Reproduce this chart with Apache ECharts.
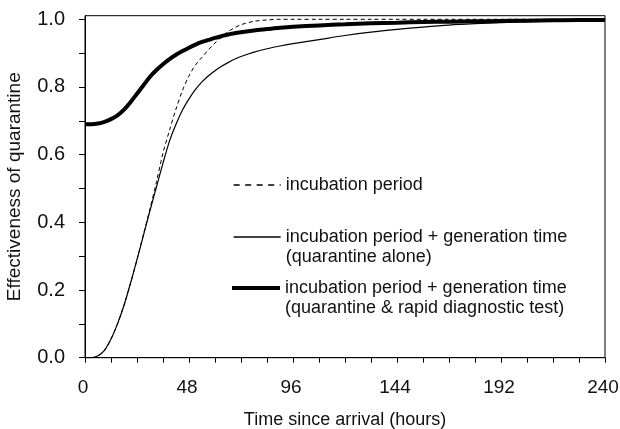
<!DOCTYPE html>
<html>
<head>
<meta charset="utf-8">
<script src="https://cdn.jsdelivr.net/npm/echarts@6/dist/echarts.min.js"></script>
<style>
  html,body{margin:0;padding:0;background:#fff;}
  #chart{width:620px;height:429px;}
</style>
</head>
<body>
<div id="chart"></div>
<script>
// hours since arrival
var hours=[0,3,6,9,12,15,18,21,24,27,30,33,36,39,42,45,48,51,54,57,60,63,66,69,72,78,84,90,96,108,120,132,144,156,168,180,192,204,216,228,240];
// incubation period
var incubation=[0,0,0.006,0.022,0.055,0.1,0.155,0.22,0.29,0.365,0.44,0.52,0.605,0.672,0.735,0.79,0.833,0.865,0.888,0.91,0.93,0.948,0.963,0.975,0.984,0.994,0.998,1,1,1,1,1,1,1,1,1,1,1,1,1,1];
// incubation period + generation time (quarantine alone)
var quarantineAlone=[0,0,0.006,0.022,0.055,0.1,0.155,0.22,0.29,0.362,0.435,0.505,0.575,0.64,0.69,0.732,0.765,0.793,0.815,0.833,0.848,0.861,0.872,0.882,0.89,0.903,0.913,0.921,0.928,0.94,0.952,0.962,0.97,0.977,0.983,0.987,0.99,0.993,0.995,0.997,0.998];
// incubation period + generation time (quarantine & rapid diagnostic test)
var quarantineTest=[0.69,0.69,0.692,0.697,0.705,0.716,0.733,0.755,0.78,0.805,0.83,0.85,0.867,0.882,0.895,0.906,0.916,0.925,0.933,0.939,0.945,0.95,0.955,0.959,0.962,0.967,0.971,0.975,0.978,0.982,0.985,0.988,0.99,0.992,0.993,0.994,0.995,0.996,0.997,0.998,0.998];
var xTicks=[0,12,24,36,48,60,72,84,96,108,120,132,144,156,168,180,192,204,216,228,240];
var xLabels=[0,48,96,144,192,240];
var yTicks=[0,0.1,0.2,0.3,0.4,0.5,0.6,0.7,0.8,0.9,1.0];
var yLabels=[0,0.2,0.4,0.6,0.8,1.0];

var names=[
    "incubation period",
    "incubation period + generation time\n(quarantine alone)",
    "incubation period + generation time\n(quarantine & rapid diagnostic test)"
];

function pairs(aVal){
    var aOut=[];
    for(var i=0;i<hours.length;i++){
        aOut.push([hours[i],aVal[i]]);
    }
    return aOut;
}

var sFont="'Liberation Sans', Arial, sans-serif";
var sText="#111";

// one legend per entry so each can sit where the reference puts it;
// two-line entries get a blank first line so the icon lines up with the first text line
function legendFor(sName,iLeft,iTop,iWidth,oLine,bTwoLines){
    return {
        data:[{name:sName}],
        left:iLeft,top:iTop,padding:0,
        orient:"vertical",
        itemWidth:iWidth,itemHeight:14,itemGap:0,
        selectedMode:false,
        formatter:function(n){return bTwoLines?(" \n"+n):n;},
        itemStyle:{opacity:0,color:"transparent",borderWidth:0},
        lineStyle:oLine,
        textStyle:{fontSize:18,fontFamily:sFont,color:sText,lineHeight:20}
    };
}

var oChart=echarts.init(document.getElementById("chart"),null,{renderer:"canvas"});
var option={
    animation:false,
    backgroundColor:"#fff",
    grid:{
        left:85,
        right:15,
        top:15.7,
        bottom:71.3,
        outerBoundsMode:"none",
        containLabel:false,
        show:true,
        borderColor:"#000",
        borderWidth:1,
        backgroundColor:"transparent"
    },
    legend:[
        legendFor(names[0],233,175,47,{width:1.3,type:[6,5.5],color:"#000",opacity:1},false),
        legendFor(names[1],233,207,47,{width:1.3,type:"solid",color:"#000",opacity:1},true),
        legendFor(names[2],230,258,48,{width:4,type:"solid",color:"#000",opacity:1},true)
    ],
    xAxis:{
        type:"value",
        min:0,
        max:240,
        interval:48,
        name:"Time since arrival (hours)",
        nameLocation:"middle",
        nameGap:53,
        nameTextStyle:{fontSize:18,fontFamily:sFont,color:sText},
        axisLine:{show:true,onZero:false,lineStyle:{color:"#000",width:1}},
        axisTick:{show:true,inside:false,length:5,customValues:xTicks,lineStyle:{color:"#000",width:1}},
        splitLine:{show:false},
        axisLabel:{fontSize:19,fontFamily:sFont,color:sText,margin:21,padding:[0,4,0,0],customValues:xLabels}
    },
    yAxis:{
        type:"value",
        min:0,
        max:1.0106,
        name:"Effectiveness of quarantine",
        nameLocation:"middle",
        nameGap:61,
        nameTextStyle:{fontSize:19,fontFamily:sFont,color:sText},
        axisLine:{show:true,onZero:false,lineStyle:{color:"#000",width:1}},
        axisTick:{show:true,inside:false,length:6,customValues:yTicks,lineStyle:{color:"#000"}},
        splitLine:{show:false},
        axisLabel:{
            fontSize:20,fontFamily:sFont,color:sText,margin:20,
            customValues:yLabels,
            formatter:function(v){return v.toFixed(1);}
        }
    },
    series:[
        {
            name:names[0],
            type:"line",
            symbol:"none",
            showSymbol:false,
            smooth:0.3,
            color:"#000",
            data:pairs(incubation),
            lineStyle:{color:"#000",width:1,type:[4,3]},
            z:3
        },
        {
            name:names[1],
            type:"line",
            symbol:"none",
            showSymbol:false,
            smooth:0.3,
            color:"#000",
            data:pairs(quarantineAlone),
            lineStyle:{color:"#000",width:1.2},
            z:2
        },
        {
            name:names[2],
            type:"line",
            symbol:"none",
            showSymbol:false,
            smooth:0.3,
            color:"#000",
            data:pairs(quarantineTest),
            lineStyle:{color:"#000",width:4},
            z:4
        }
    ]
};
oChart.setOption(option);
</script>
</body>
</html>
